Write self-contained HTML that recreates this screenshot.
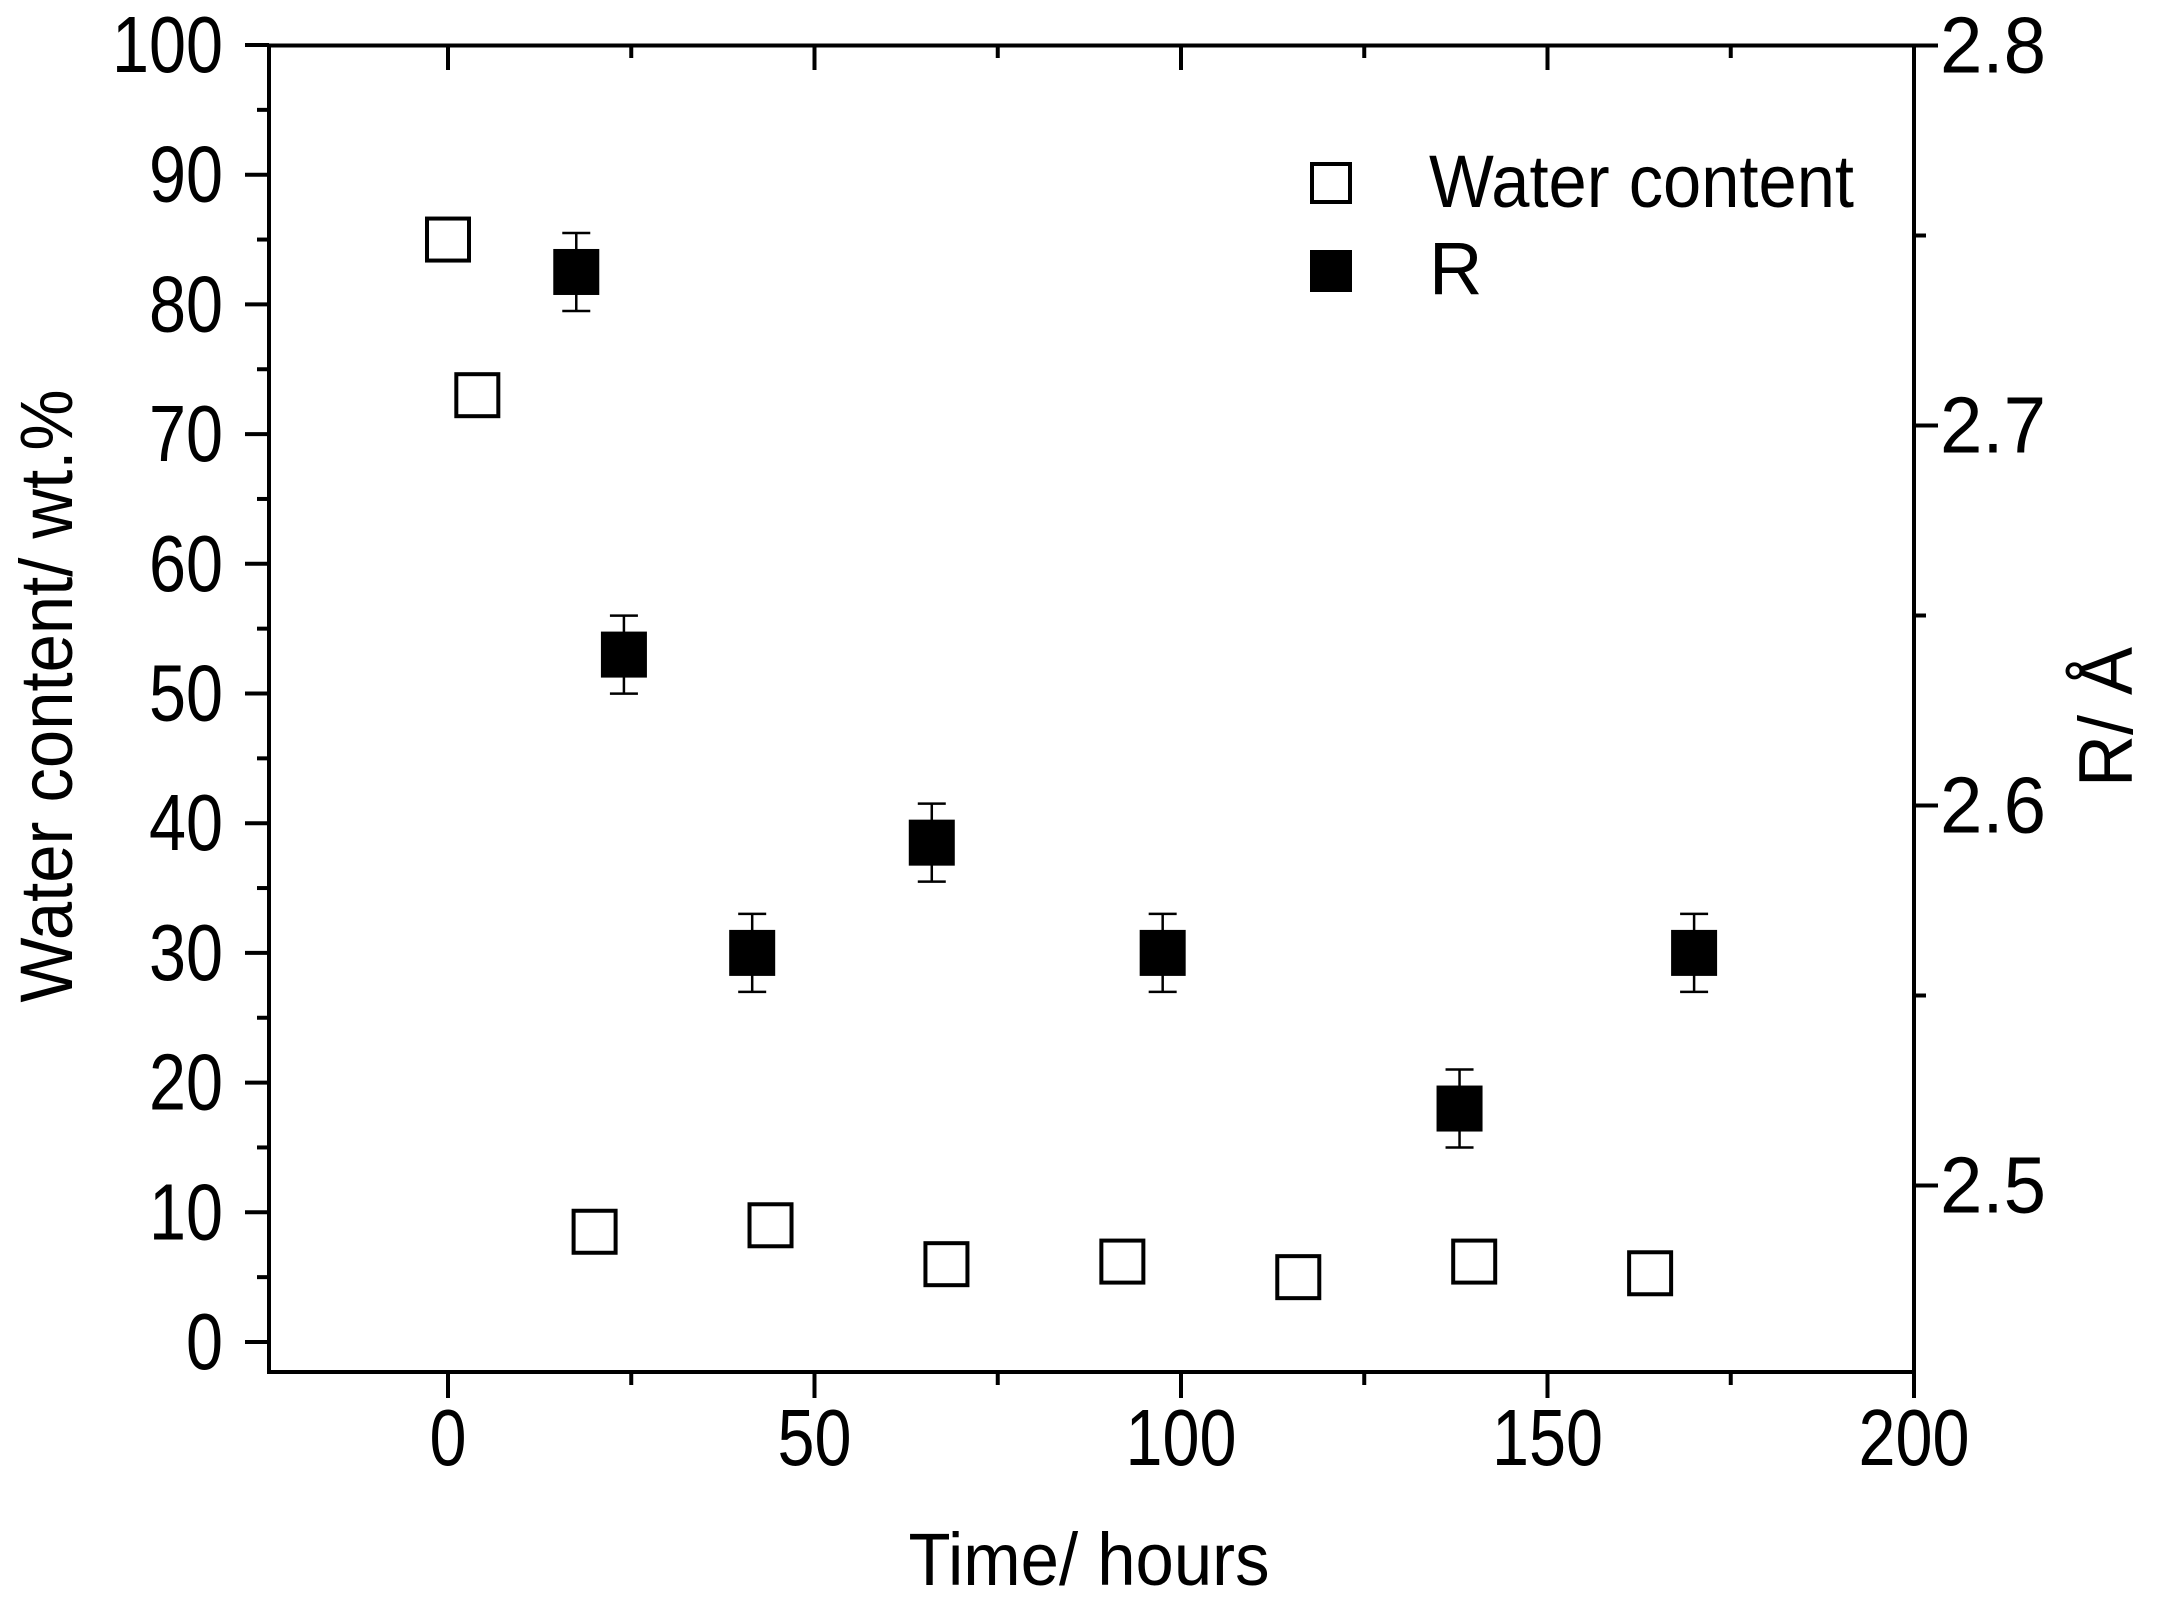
<!DOCTYPE html>
<html><head><meta charset="utf-8"><style>html,body{margin:0;padding:0;background:#fff}svg{display:block}</style></head><body>
<svg width="2160" height="1611" viewBox="0 0 2160 1611" xmlns="http://www.w3.org/2000/svg" font-family="Liberation Sans, Arial, sans-serif">
<rect width="2160" height="1611" fill="#fff"/>
<g stroke="#000" stroke-width="4" fill="none">
<rect x="269" y="45.5" width="1645" height="1326.5"/>
</g>
<g stroke="#000" stroke-width="4" id="ticks"></g>
<g font-size="80" fill="#000" id="labels"></g>
<g id="data"></g>
<text x="1089" y="1585" font-size="74" text-anchor="middle" textLength="361" lengthAdjust="spacingAndGlyphs">Time/ hours</text>
<text transform="translate(72,696) rotate(-90)" font-size="74" text-anchor="middle" textLength="613" lengthAdjust="spacingAndGlyphs">Water content/ wt.%</text>
<text transform="translate(2132,717) rotate(-90)" font-size="76" text-anchor="middle" textLength="140" lengthAdjust="spacingAndGlyphs">R/ Å</text>
<rect x="1312" y="164" width="38" height="38" fill="#fff" stroke="#000" stroke-width="4"/>
<rect x="1310" y="250" width="42" height="42" fill="#000"/>
<text x="1429" y="207" font-size="74" textLength="425" lengthAdjust="spacingAndGlyphs">Water content</text>
<text x="1429" y="294" font-size="74">R</text>
<script>
const NS="http://www.w3.org/2000/svg";
function el(p,t,a,txt){const e=document.createElementNS(NS,t);for(const k in a)e.setAttribute(k,a[k]);if(txt!==undefined)e.textContent=txt;document.getElementById(p).appendChild(e);return e;}
const X=t=>448+t*7.33, Y=v=>1342-v*12.97, RY=r=>45.5+(2.8-r)*3800;
for(let v=0;v<=100;v+=5){const y=Y(v);const maj=v%10==0;el('ticks','line',{x1:269,x2:maj?245:257,y1:y,y2:y});
 if(maj){const s=String(v);el('labels','text',{x:223,y:y+27,'text-anchor':'end',textLength:s.length*37,lengthAdjust:'spacingAndGlyphs'},s);}}
for(let t=-25;t<=200;t+=25){const x=X(t);const maj=t%50==0;if(t>-25){el('ticks','line',{x1:x,x2:x,y1:1372,y2:maj?1398:1385});el('ticks','line',{x1:x,x2:x,y1:45.5,y2:maj?70:58});}
 if(maj){const s=String(t);el('labels','text',{x:x,y:1465,'text-anchor':'middle',textLength:s.length*37,lengthAdjust:'spacingAndGlyphs'},s);}}
for(let i=0;i<=6;i++){const r=2.8-i*0.05;const y=RY(r);if(y>1372)break;const maj=i%2==0;el('ticks','line',{x1:1914,x2:maj?1938:1926,y1:y,y2:y});
 if(maj) el('labels','text',{x:1940,y:y+27,textLength:106,lengthAdjust:'spacingAndGlyphs'},r.toFixed(1));}
const W=[[0,85],[4,73],[20,8.5],[44,9],[68,6],[92,6.2],[116,5],[140,6.2],[164,5.3]];
W.forEach(([t,v])=>el('data','rect',{x:X(t)-21,y:Y(v)-21,width:42,height:42,fill:'#fff',stroke:'#000','stroke-width':4}));
const R=[[17.5,82.5],[24,53],[41.5,30],[66,38.5],[97.5,30],[138,18],[170,30]];
R.forEach(([t,v])=>{const x=X(t),y=Y(v),e=39;
 el('data','line',{x1:x,x2:x,y1:y-e,y2:y+e,stroke:'#000','stroke-width':2.5});
 el('data','line',{x1:x-14,x2:x+14,y1:y-e,y2:y-e,stroke:'#000','stroke-width':2.5});
 el('data','line',{x1:x-14,x2:x+14,y1:y+e,y2:y+e,stroke:'#000','stroke-width':2.5});
 el('data','rect',{x:x-23,y:y-23,width:46,height:46,fill:'#000'});});
</script>
</svg>
</body></html>
